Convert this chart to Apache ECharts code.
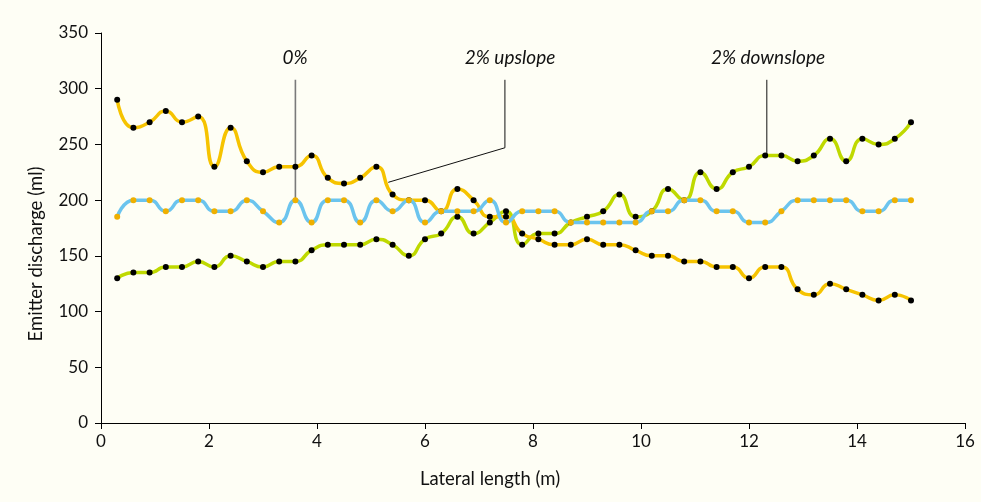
<!DOCTYPE html>
<html>
<head>
<meta charset="utf-8">
<script src="https://cdn.jsdelivr.net/npm/echarts@6/dist/echarts.min.js"></script>
<style>
html,body{margin:0;padding:0;background:#fefef5;}
#chart{width:981px;height:502px;}
</style>
</head>
<body>
<div id="chart"></div>
<script>
// Lateral positions (m)
var positions = [0.3,0.6,0.9,1.2,1.5,1.8,2.1,2.4,2.7,3.0,3.3,3.6,3.9,4.2,4.5,4.8,5.1,5.4,5.7,6.0,
  6.3,6.6,6.9,7.2,7.5,7.8,8.1,8.4,8.7,9.0,9.3,9.6,9.9,10.2,10.5,10.8,11.1,11.4,11.7,12.0,
  12.3,12.6,12.9,13.2,13.5,13.8,14.1,14.4,14.7,15.0];

// 0% slope (blue)
var flat = [185,200,200,190,200,200,190,190,200,190,180,200,180,200,200,180,200,190,200,180,
  190,190,190,200,180,190,190,190,180,180,180,180,180,190,190,200,200,190,190,180,
  180,190,200,200,200,200,190,190,200,200];

// 2% upslope (yellow)
var upslope = [290,265,270,280,270,275,230,265,235,225,230,230,240,220,215,220,230,205,200,200,
  190,210,200,185,185,170,165,160,160,165,160,160,155,150,150,145,145,140,140,130,
  140,140,120,115,125,120,115,110,115,110];

// 2% downslope (green)
var downslope = [130,135,135,140,140,145,140,150,145,140,145,145,155,160,160,160,165,160,150,165,
  170,185,170,180,190,160,170,170,180,185,190,205,185,190,210,200,225,210,225,230,
  240,240,235,240,255,235,255,250,255,270];

var xTicks = [0,2,4,6,8,10,12,14,16];
var yTicks = [0,50,100,150,200,250,300,350];

// annotation leader lines [x, y] in data units
var lead0 = [[3.6,308],[3.6,200]];
var leadUp = [[7.48,308],[7.48,247],[5.32,216]];
var leadDown = [[12.33,308],[12.33,240]];

function pairs(xs, ys){ return xs.map(function(x,i){ return [x, ys[i]]; }); }

var chart = echarts.init(document.getElementById('chart'), null, {renderer:'canvas'});
var font = 'Lato, "Open Sans", sans-serif';

function lineSeries(name, data, color, dotColor, z){
  return {
    name: name, type: 'line', data: data, smooth: 0.55,
    symbol: 'circle', symbolSize: 6, showSymbol: true,
    lineStyle: {color: color, width: 3.5},
    itemStyle: {color: dotColor, borderWidth: 0},
    z: z, animation: false
  };
}
function leader(data, color, width){
  return {type:'line', data:data, symbol:'none', smooth:false, silent:true,
    lineStyle:{color:color, width:width}, z:1, animation:false};
}

chart.setOption({
  backgroundColor: '#fefef5',
  animation: false,
  grid: {left: 101, right: 16, top: 33, bottom: 79},
  xAxis: {
    type: 'value', min: 0, max: 16, interval: 2,
    axisLine: {show: true, lineStyle: {color: '#000', width: 1}},
    axisTick: {show: true, length: 6, lineStyle: {color: '#000'}},
    splitLine: {show: false},
    axisLabel: {color: '#111', fontSize: 17, fontFamily: font, margin: 10}
  },
  yAxis: {
    type: 'value', min: 0, max: 350, interval: 50,
    axisLine: {show: true, lineStyle: {color: '#000', width: 1}},
    axisTick: {show: true, length: 6, lineStyle: {color: '#000'}},
    splitLine: {show: false},
    axisLabel: {color: '#111', fontSize: 17, fontFamily: font, margin: 13}
  },
  series: [
    leader(lead0, '#7a7a7a', 1.6),
    leader(leadUp, '#111', 1),
    leader(leadDown, '#111', 1),
    lineSeries('2% downslope', pairs(positions, downslope), '#bfd900', '#000', 3),
    lineSeries('2% upslope', pairs(positions, upslope), '#f6c300', '#000', 4),
    lineSeries('0%', pairs(positions, flat), '#6bc4ee', '#efb000', 5)
  ],
  graphic: [
    {type:'text', x:36, y:254, rotation:Math.PI/2, style:{text:'Emitter discharge (ml)', fill:'#111',
      font:'18.5px ' + font, textAlign:'center', textVerticalAlign:'middle'}},
    {type:'text', x:490, y:479, style:{text:'Lateral length (m)', fill:'#111',
      font:'18.5px ' + font, textAlign:'center', textVerticalAlign:'middle'}},
    {type:'text', x:295, y:58, style:{text:'0%', fill:'#111',
      font:'italic 19px ' + font, textAlign:'center', textVerticalAlign:'middle'}},
    {type:'text', x:510, y:58, style:{text:'2% upslope', fill:'#111',
      font:'italic 19px ' + font, textAlign:'center', textVerticalAlign:'middle'}},
    {type:'text', x:768, y:58, style:{text:'2% downslope', fill:'#111',
      font:'italic 19px ' + font, textAlign:'center', textVerticalAlign:'middle'}}
  ]
});
</script>
</body>
</html>
